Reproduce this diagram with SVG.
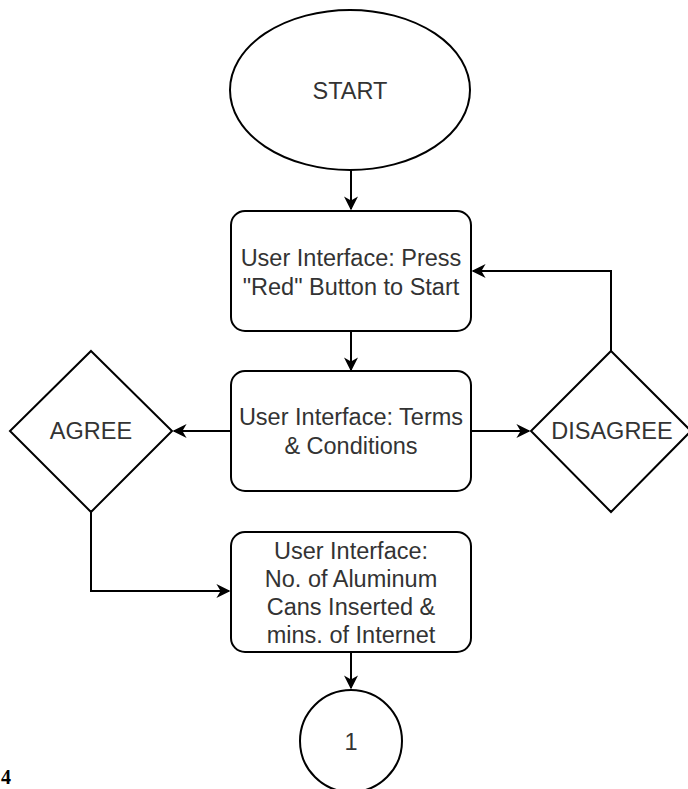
<svg xmlns="http://www.w3.org/2000/svg" width="688" height="789" viewBox="0 0 688 789">
<defs>
<style>
.s{fill:#fff;stroke:#000;stroke-width:2}
.t{font-family:"Liberation Sans",Arial,sans-serif;font-size:23.5px;fill:#333;text-anchor:middle}
.c{fill:none;stroke:#000;stroke-width:2}
.n{font-family:"Liberation Serif","Times New Roman",serif;font-size:20px;font-weight:bold;fill:#000}
</style>
<marker id="a" viewBox="0 0 10 10" refX="9" refY="5" markerWidth="14" markerHeight="14" markerUnits="userSpaceOnUse" orient="auto">
<path d="M0,0 L10,5 L0,10 L3,5 Z" fill="#000"/>
</marker>
</defs>
<rect width="688" height="789" fill="#fff"/>
<g id="connectors">
<path class="c" d="M351,170 V209" marker-end="url(#a)"/>
<path class="c" d="M351,331 V370" marker-end="url(#a)"/>
<path class="c" d="M231,431 H174" marker-end="url(#a)"/>
<path class="c" d="M471,431 H529" marker-end="url(#a)"/>
<path class="c" d="M611,351 V271 H473" marker-end="url(#a)"/>
<path class="c" d="M91,512 V591 H229" marker-end="url(#a)"/>
<path class="c" d="M351,652 V688" marker-end="url(#a)"/>
</g>
<g id="start">
<ellipse class="s" cx="350" cy="90" rx="120" ry="80"/>
<text class="t" x="350" y="99">START</text>
</g>
<g id="ui-press">
<rect class="s" x="231" y="211" width="240" height="120" rx="14"/>
<text class="t" x="351" y="266">User Interface: Press</text>
<text class="t" x="351" y="295">"Red" Button to Start</text>
</g>
<g id="ui-terms">
<rect class="s" x="231" y="371" width="240" height="120" rx="14"/>
<text class="t" x="351" y="425">User Interface: Terms</text>
<text class="t" x="351" y="454">&amp; Conditions</text>
</g>
<g id="agree">
<polygon class="s" points="91,351 172,431 91,512 10,431"/>
<text class="t" x="91" y="439">AGREE</text>
</g>
<g id="disagree">
<polygon class="s" points="611,351 691,431 611,512 531,431"/>
<text class="t" x="612" y="439">DISAGREE</text>
</g>
<g id="ui-cans">
<rect class="s" x="231" y="532" width="240" height="120" rx="14"/>
<text class="t" x="351" y="558.5">User Interface:</text>
<text class="t" x="351" y="586.5">No. of Aluminum</text>
<text class="t" x="351" y="614.5">Cans Inserted &amp;</text>
<text class="t" x="351" y="642.5">mins. of Internet</text>
</g>
<g id="connector-1">
<circle class="s" cx="351" cy="741" r="51"/>
<text class="t" x="351" y="750">1</text>
</g>
<text class="n" x="1" y="784">4</text>
</svg>
